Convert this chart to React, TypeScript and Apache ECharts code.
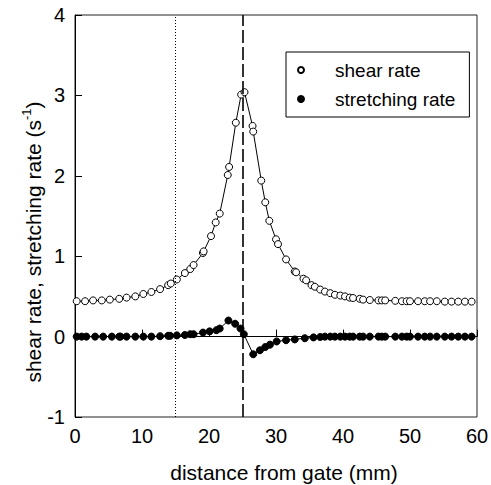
import React, { useEffect, useRef } from "react";
import * as echarts from "echarts";

const shearX = [0.25, 1.5, 2.7, 4.0, 5.2, 6.6, 7.7, 9.0, 10.2, 11.4, 12.7, 13.9, 14.3, 15.2, 16.4, 17.2, 17.7, 19.1, 19.2, 20.3, 21.0, 21.6, 22.8, 23.0, 24.0, 24.8, 25.3, 26.5, 26.6, 27.8, 28.4, 29.0, 30.0, 30.3, 31.5, 32.8, 33.0, 34.1, 34.5, 35.3, 35.8, 36.6, 37.3, 38.1, 38.8, 39.6, 40.3, 41.0, 41.5, 42.5, 43.0, 44.0, 45.3, 45.8, 46.3, 47.8, 48.8, 49.5, 50.0, 51.2, 52.2, 53.0, 54.0, 55.2, 56.2, 57.2, 58.2, 59.2];
const shearY = [0.44, 0.44, 0.45, 0.45, 0.46, 0.47, 0.485, 0.5, 0.53, 0.555, 0.59, 0.64, 0.66, 0.71, 0.79, 0.84, 0.89, 1.04, 1.06, 1.25, 1.42, 1.53, 2.01, 2.11, 2.66, 3.01, 3.04, 2.62, 2.55, 1.94, 1.67, 1.44, 1.21, 1.15, 0.96, 0.81, 0.8, 0.72, 0.7, 0.64, 0.62, 0.585, 0.56, 0.54, 0.52, 0.51, 0.5, 0.485, 0.48, 0.47, 0.46, 0.455, 0.45, 0.45, 0.45, 0.445, 0.44, 0.44, 0.44, 0.44, 0.44, 0.44, 0.44, 0.435, 0.435, 0.435, 0.435, 0.435];

const stretchX = [0.25, 1.0, 1.7, 3.0, 4.2, 5.5, 6.6, 6.8, 7.7, 9.0, 10.2, 11.4, 12.7, 13.9, 14.2, 15.2, 16.4, 17.2, 17.7, 19.1, 20.1, 21.1, 21.6, 22.9, 23.9, 24.7, 25.2, 26.6, 27.6, 28.4, 29.1, 30.1, 31.5, 32.8, 34.3, 35.6, 36.6, 37.3, 38.1, 38.8, 39.6, 40.3, 41.0, 41.5, 42.5, 43.0, 44.0, 45.3, 45.8, 46.3, 47.8, 48.8, 49.5, 50.0, 51.2, 52.2, 53.0, 54.0, 55.2, 56.2, 57.2, 58.2, 59.2];
const stretchY = [0, 0, 0, 0, 0, 0, 0, 0, 0, 0, 0, 0, 0.005, 0.01, 0.01, 0.015, 0.02, 0.03, 0.03, 0.05, 0.065, 0.08, 0.1, 0.2, 0.16, 0.1, 0.03, -0.22, -0.17, -0.13, -0.1, -0.06, -0.045, -0.035, -0.02, -0.01, -0.005, 0, 0, 0, 0, 0, 0, 0, 0, 0, 0, 0, 0, 0, 0, 0, 0, 0, 0, 0, 0, 0, 0, 0, 0, 0, 0];

const seriesNames = ["shear rate", "stretching rate"];
const xTitle = "distance from gate (mm)";
const yTitleMain = "shear rate, stretching rate (s";
const yTitleSup = "-1";
const dottedLineX = 15;
const dashedLineX = 25;

const FONT = "Liberation Sans, Arial, Helvetica, sans-serif";

export default function App() {
  const ref = useRef<HTMLDivElement>(null);
  useEffect(() => {
    if (!ref.current) return;
    const chart = echarts.init(ref.current, null, { renderer: "svg" });
    const shearData = shearX.map((x, i) => [x, shearY[i]]);
    const stretchData = stretchX.map((x, i) => [x, stretchY[i]]);
    chart.setOption({
      animation: false,
      backgroundColor: "#fff",
      textStyle: { fontFamily: FONT, color: "#000" },
      grid: {
        left: 75,
        right: 14,
        top: 15,
        bottom: 68,
        outerBoundsMode: "none",
        containLabel: false,
        show: true,
        borderColor: "#222",
        borderWidth: 1,
      },
      legend: {
        left: 286,
        top: 52,
        orient: "vertical",
        data: seriesNames.map((n) => ({ name: n, icon: "circle" })),
        backgroundColor: "#fff",
        borderColor: "#000",
        borderWidth: 1,
        borderRadius: 0,
        padding: [8, 14, 8, 11],
        itemGap: 9,
        itemWidth: 6,
        itemHeight: 6,
        textStyle: {
          fontFamily: FONT,
          fontSize: 19,
          color: "#000",
          lineHeight: 20,
          padding: [0, 0, 0, 26],
        },
      },
      xAxis: {
        type: "value",
        min: 0,
        max: 60,
        interval: 10,
        name: xTitle,
        nameLocation: "middle",
        nameGap: 45,
        nameTextStyle: { fontFamily: FONT, fontSize: 21, lineHeight: 21, color: "#000", padding: [0, 0, 0, 16] },
        axisLine: { show: true, lineStyle: { color: "#000", width: 1 } },
        axisTick: { show: true, inside: true, length: 7, lineStyle: { color: "#000" } },
        axisLabel: { fontFamily: FONT, fontSize: 20, color: "#000", margin: 9 },
        splitLine: { show: false },
      },
      yAxis: {
        type: "value",
        min: -1,
        max: 4,
        interval: 1,
        axisLine: { show: true, lineStyle: { color: "#000", width: 1 } },
        axisTick: { show: true, inside: true, length: 7, lineStyle: { color: "#000" } },
        axisLabel: { fontFamily: FONT, fontSize: 20, color: "#000", margin: 10 },
        splitLine: { show: false },
      },
      graphic: [
        {
          type: "text",
          x: 31,
          y: 242,
          rotation: Math.PI / 2,
          style: {
            text: `{a|${yTitleMain}}{s|${yTitleSup}}{a|)}`,
            align: "center",
            verticalAlign: "middle",
            fill: "#000",
            rich: {
              a: { fontFamily: FONT, fontSize: 21, fill: "#000", lineHeight: 26, verticalAlign: "bottom" },
              s: { fontFamily: FONT, fontSize: 13, fill: "#000", lineHeight: 26, verticalAlign: "top", padding: [2, 0, 0, 0] },
            },
          },
        },
      ],
      series: [
        {
          name: seriesNames[1],
          type: "line",
          data: stretchData,
          symbol: "circle",
          symbolSize: 7,
          showAllSymbol: true,
          lineStyle: { color: "#000", width: 1 },
          itemStyle: { color: "#000", borderColor: "#000", borderWidth: 1 },
          z: 3,
          markLine: {
            silent: true,
            symbol: "none",
            label: { show: false },
            data: [
              { xAxis: dottedLineX, lineStyle: { type: [1, 2], color: "#000", width: 1 } },
              { xAxis: dashedLineX, lineStyle: { type: [13, 4], color: "#000", width: 1.6 } },
            ],
          },
        },
        {
          name: seriesNames[0],
          type: "line",
          data: shearData,
          symbol: "circle",
          symbolSize: 7,
          showAllSymbol: true,
          lineStyle: { color: "#000", width: 1 },
          itemStyle: { color: "#fff", borderColor: "#000", borderWidth: 1 },
          z: 4,
        },
      ],
    });
    return () => chart.dispose();
  }, []);
  return <div ref={ref} style={{ width: 491, height: 485, position: "absolute", left: 0, top: 0 }} />;
}
